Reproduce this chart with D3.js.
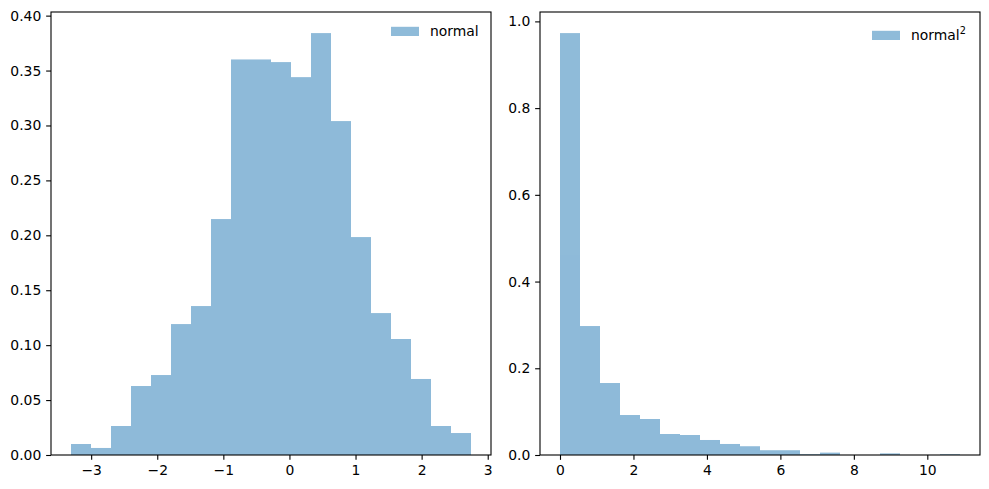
<!DOCTYPE html>
<meta charset="utf-8">
<style>
body{ margin:0; background:#fff; }
svg text{ font-family:"DejaVu Sans", sans-serif; font-size:13.9px; fill:#000; }
.frame{ fill:none; stroke:#000; stroke-width:1.1px; }
.tick line{ stroke:#000; stroke-width:1.1px; }
</style>
<body>
<script src="https://cdn.jsdelivr.net/npm/d3@7"></script>
<script>
// histogram 1: samples of a standard normal (density)
var normalBinStart = -3.305, normalBinWidth = 0.3026;
var normalDensity = [0.0100, 0.0064, 0.0264, 0.0628, 0.0728, 0.1192, 0.1356, 0.2148, 0.3601, 0.3601,
                     0.3577, 0.3440, 0.3841, 0.3040, 0.1984, 0.1292, 0.1056, 0.0692, 0.0264, 0.0200];
var normalXTicks = [-3, -2, -1, 0, 1, 2, 3];
var normalYTicks = [0, 0.05, 0.10, 0.15, 0.20, 0.25, 0.30, 0.35, 0.40];

// histogram 2: the same samples squared
var squaredBinStart = 0.0, squaredBinWidth = 0.5445;
var squaredDensity = [0.973, 0.2974, 0.166, 0.0922, 0.0830, 0.0484, 0.0461, 0.0346, 0.0254, 0.0202,
                      0.0110, 0.0110, 0.0018, 0.0055, 0, 0, 0.0037, 0, 0, 0.0018];
var squaredXTicks = [0, 2, 4, 6, 8, 10];
var squaredYTicks = [0, 0.2, 0.4, 0.6, 0.8, 1.0];

var W = 989, H = 489, tick = 4.86;
var svg = d3.select("body").append("svg").attr("width", W).attr("height", H);

function minusFmt(f){ return function(d){ return d3.format(f)(d).replace("-", "\u2212"); }; }

function panel(o){
  var bins = o.density.map(function(v, i){
    return {x0: o.start + i*o.width, x1: o.start + (i+1)*o.width, y: v};
  });
  var lo = bins[0].x0, hi = bins[bins.length-1].x1, pad = (hi-lo)*0.05;
  var ymax = d3.max(o.density)*1.05;
  var x = d3.scaleLinear().domain([lo-pad, hi+pad]).range([o.left, o.right]);
  var y = d3.scaleLinear().domain([0, ymax]).range([o.bottom, o.top]);

  var g = svg.append("g");
  g.append("g").attr("opacity", 0.5).selectAll("rect").data(bins).enter().append("rect")
    .attr("x", function(d){ return x(d.x0); })
    .attr("width", function(d){ return x(d.x1) - x(d.x0); })
    .attr("y", function(d){ return y(d.y); })
    .attr("height", function(d){ return y(0) - y(d.y); })
    .attr("fill", "#1f77b4");

  var ax = g.append("g").attr("transform", "translate(0," + o.bottom + ")")
    .call(d3.axisBottom(x).tickValues(o.xTicks).tickSize(tick).tickSizeOuter(0).tickPadding(4.86).tickFormat(minusFmt(o.xFmt)));
  var ay = g.append("g").attr("transform", "translate(" + o.left + ",0)")
    .call(d3.axisLeft(y).tickValues(o.yTicks).tickSize(tick).tickSizeOuter(0).tickPadding(4.86).tickFormat(d3.format(o.yFmt)));
  [ax, ay].forEach(function(a){
    a.select(".domain").remove();
    a.attr("font-family", null).attr("font-size", null);
  });

  g.append("rect").attr("class", "frame")
    .attr("x", o.left).attr("y", o.top)
    .attr("width", o.right - o.left).attr("height", o.bottom - o.top);

  // legend (no frame)
  var lg = g.append("g").attr("transform", "translate(" + o.legX + "," + o.legY + ")");
  lg.append("rect").attr("x", 0).attr("y", -9.2).attr("width", 28).attr("height", 9.2)
    .attr("fill", "#1f77b4").attr("opacity", 0.5);
  var t = lg.append("text").attr("x", 39).attr("y", 0).text(o.label);
  if (o.sup) {
    t.append("tspan").attr("dy", -6).style("font-size", "9.7px").text(o.sup);
  }
}

panel({density: normalDensity, start: normalBinStart, width: normalBinWidth,
       xTicks: normalXTicks, yTicks: normalYTicks, xFmt: "d", yFmt: ".2f",
       left: 51, right: 491, top: 12, bottom: 455,
       legX: 391, legY: 36, label: "normal"});

panel({density: squaredDensity, start: squaredBinStart, width: squaredBinWidth,
       xTicks: squaredXTicks, yTicks: squaredYTicks, xFmt: "d", yFmt: ".1f",
       left: 540, right: 980, top: 12, bottom: 455,
       legX: 872, legY: 40, label: "normal", sup: "2"});
</script>
</body>
